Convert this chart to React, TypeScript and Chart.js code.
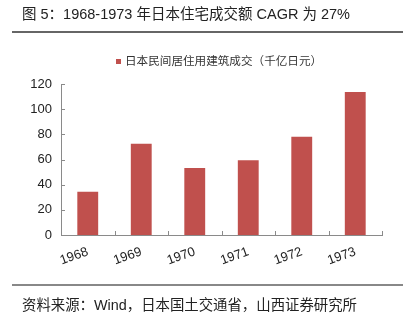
import React, { useEffect, useRef } from "react";
import { Chart, registerables } from "chart.js";

Chart.register(...registerables);

const years = ["1968", "1969", "1970", "1971", "1972", "1973"];
const values = [34.4, 72.5, 53.3, 59.5, 78, 113.6];
const yTicks = [0, 20, 40, 60, 80, 100, 120];
const seriesName = "日本民间居住用建筑成交（千亿日元）";
const titleText = "图 5：1968-1973 年日本住宅成交额 CAGR 为 27%";
const sourceText = "资料来源：Wind，日本国土交通省，山西证券研究所";

const BAR = "#C0504D";
const AXIS = "#8a8a8a";
const CJK = '"Liberation Sans", Arial, "Noto Sans CJK SC", sans-serif';

const innerTicks = {
  id: "innerTicks",
  afterDraw(chart: any) {
    const ctx = chart.ctx;
    const x = chart.scales.x;
    const y = chart.scales.y;
    ctx.save();
    ctx.strokeStyle = AXIS;
    ctx.lineWidth = 1;
    ctx.beginPath();
    for (const v of yTicks) {
      const py = Math.round(y.getPixelForValue(v)) + 0.5;
      ctx.moveTo(x.left, py);
      ctx.lineTo(x.left + 4, py);
    }
    for (let i = 0; i < years.length; i++) {
      const px = Math.round(x.getPixelForValue(i + 0.5)) + 0.5;
      ctx.moveTo(px, y.bottom);
      ctx.lineTo(px, y.bottom - 4);
    }
    ctx.stroke();
    ctx.restore();
  },
};

export default function App() {
  const ref = useRef<HTMLCanvasElement>(null);
  useEffect(() => {
    if (!ref.current) return;
    const chart = new Chart(ref.current, {
      type: "bar",
      data: {
        labels: years,
        datasets: [
          {
            label: seriesName,
            data: values,
            backgroundColor: BAR,
            borderWidth: 0,
            barPercentage: 0.39,
            categoryPercentage: 1,
          },
        ],
      },
      plugins: [innerTicks],
      options: {
        animation: false,
        responsive: false,
        maintainAspectRatio: false,
        layout: { padding: { left: 0, right: 28, top: 84, bottom: 0 } },
        plugins: {
          legend: { display: false },
          tooltip: { enabled: false },
        },
        scales: {
          x: {
            grid: { display: false, drawTicks: false },
            border: { display: true, color: AXIS, width: 1 },
            ticks: {
              color: "#222",
              font: { family: CJK, size: 13 },
              minRotation: 20,
              maxRotation: 20,
              padding: 9,
            },
            afterFit: (s: any) => {
              s.height = 97;
            },
          },
          y: {
            min: 0,
            max: 120,
            grid: { display: false, drawTicks: false },
            border: { display: true, color: AXIS, width: 1 },
            ticks: {
              stepSize: 20,
              color: "#222",
              font: { family: CJK, size: 13 },
              padding: 9,
            },
            afterFit: (s: any) => {
              s.width = 61;
            },
          },
        },
      },
    });
    return () => chart.destroy();
  }, []);

  return (
    <div
      style={{
        position: "fixed",
        left: 0,
        top: 0,
        width: 410,
        height: 332,
        background: "#fff",
        fontFamily: CJK,
        overflow: "hidden",
      }}
    >
      <canvas
        ref={ref}
        width={410}
        height={332}
        style={{ position: "absolute", left: 0, top: 0, width: 410, height: 332 }}
      />
      <div
        style={{
          position: "absolute",
          left: 22,
          top: 5,
          fontSize: 14.5,
          lineHeight: "18px",
          color: "#222",
          whiteSpace: "nowrap",
        }}
      >
        {titleText}
      </div>
      <div
        style={{
          position: "absolute",
          left: 12,
          top: 31,
          width: 391,
          height: 2,
          background: "#666",
        }}
      />
      <div
        style={{
          position: "absolute",
          left: 116,
          top: 54,
          display: "flex",
          alignItems: "center",
          fontSize: 11.6,
          lineHeight: "14px",
          color: "#333",
          whiteSpace: "nowrap",
        }}
      >
        <span
          style={{
            display: "inline-block",
            width: 5,
            height: 5,
            background: BAR,
            marginRight: 4,
          }}
        />
        {seriesName}
      </div>
      <div
        style={{
          position: "absolute",
          left: 12,
          top: 284,
          width: 391,
          height: 2,
          background: "#888",
        }}
      />
      <div
        style={{
          position: "absolute",
          left: 22,
          top: 296,
          fontSize: 14.4,
          lineHeight: "18px",
          color: "#222",
          whiteSpace: "nowrap",
        }}
      >
        {sourceText}
      </div>
    </div>
  );
}
